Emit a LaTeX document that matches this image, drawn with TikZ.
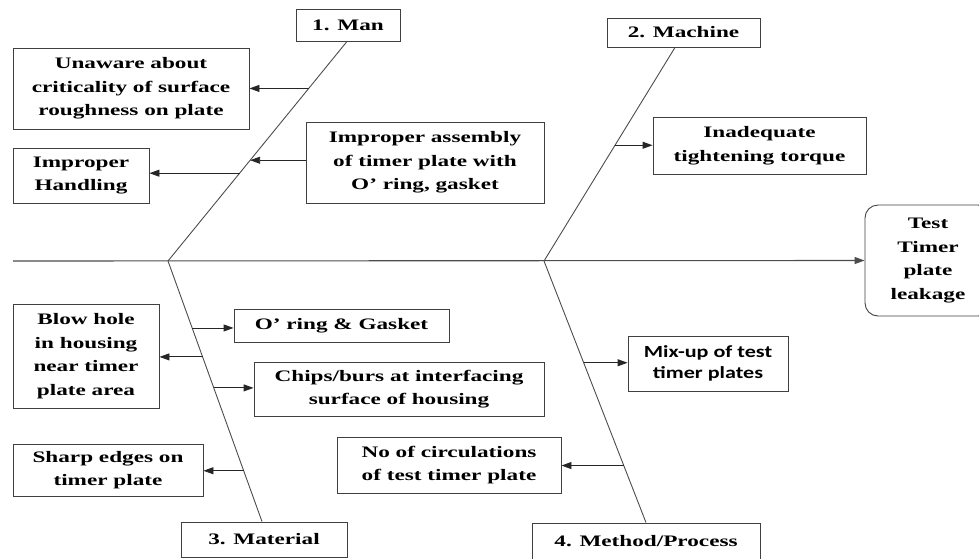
\documentclass[tikz,border=0pt]{standalone}
\usepackage{fontspec}
\setmainfont{Liberation Serif}[FakeStretch=1.45]
\newfontfamily\calibri{Carlito}[FakeStretch=1.3]
\usetikzlibrary{arrows.meta,calc}

\begin{document}
\begin{tikzpicture}[x=1pt, y=-1pt, >={Triangle[length=10pt,width=7pt]},
  box/.style = {draw=black!75, line width=0.9pt, align=center, inner sep=0pt,
    font=\fontsize{16}{23.5}\selectfont\bfseries},
  bone/.style = {draw=black!70, line width=0.9pt},
  twig/.style = {draw=black!85, line width=0.9pt, ->}]
\useasboundingbox (0,0) rectangle (979,558);

% categories
\node[box, minimum width=104, minimum height=32] (man) at (348,25) {1. Man};
\node[box, minimum width=153, minimum height=29] (mach) at (683.5,32.5) {2. Machine};
\node[box, minimum width=166, minimum height=35] (mat) at (264,539.5) {3. Material};
\node[box, minimum width=228, minimum height=37] (meth) at (646,541.5) {4. Method/Process};

% effect
\node[box, rounded corners=13pt, minimum width=126, minimum height=111] (hd) at (928,260.5)
  {Test\\Timer\\plate\\leakage};

% causes
\node[box, minimum width=236, minimum height=81] (unaw) at (131,88.5)
  {Unaware about\\criticality of surface\\roughness on plate};
\node[box, minimum width=136, minimum height=55] (hand) at (81,175.5) {Improper\\Handling};
\node[box, minimum width=238, minimum height=81] (asm) at (425,162.5)
  {Improper assembly\\of timer plate with\\O’ ring, gasket};
\node[box, minimum width=213, minimum height=57] (torq) at (759.5,145.5)
  {Inadequate\\tightening torque};
\node[box, minimum width=215, minimum height=33] (oring) at (341.5,325.5) {O’ ring \& Gasket};
\node[box, minimum width=146, minimum height=104] (blow) at (86,356)
  {Blow hole\\in housing\\near timer\\plate area};
\node[box, minimum width=290, minimum height=54] (chips) at (399,389)
  {Chips/burs at interfacing\\surface of housing};
\node[box, minimum width=190, minimum height=52] (sharp) at (108,470)
  {Sharp edges on\\timer plate};
\node[box, minimum width=160, minimum height=55, font=\fontsize{17}{21.7}\selectfont\calibri\bfseries]
  (mix) at (708,363.5) {Mix-up of test\\timer plates};
\node[box, minimum width=224, minimum height=56] (circ) at (449,465)
  {No of circulations\\of test timer plate};

% spine and bones
\coordinate (tail) at (13,261);
\coordinate (j1) at (168,261);
\coordinate (j2) at (544,261);
\coordinate (b1) at ([xshift=-1pt]man.south);
\coordinate (b2) at ([xshift=-8.5pt]mach.south);
\coordinate (b3) at ([xshift=-2pt]mat.north);
\coordinate (b4) at (meth.north);

\draw[bone, line width=1.1pt, ->] (tail) -- (hd.west);
\draw[bone] (b1) -- (j1);
\draw[bone] (j1) -- (b3);
\draw[bone] (b2) -- (j2);
\draw[bone] (j2) -- (b4);

% twigs
\coordinate (p1) at ($(b1)!0.214!(j1)$);
\coordinate (p2) at ($(b1)!0.6!(j1)$);
\coordinate (p3) at ($(b1)!0.541!(j1)$);
\coordinate (p4) at ($(b2)!0.458!(j2)$);
\coordinate (p5) at ($(j1)!0.257!(b3)$);
\coordinate (p6) at ($(j1)!0.368!(b3)$);
\coordinate (p7) at ($(j1)!0.487!(b3)$);
\coordinate (p8) at ($(j1)!0.805!(b3)$);
\coordinate (p9) at ($(j2)!0.389!(b4)$);
\coordinate (p10) at ($(j2)!0.782!(b4)$);

\draw[twig] (p1) -- (p1 -| unaw.east);
\draw[twig] (p2) -- (p2 -| hand.east);
\draw[twig] (p3 -| asm.west) -- (p3);
\draw[twig] (p4) -- (p4 -| torq.west);
\draw[twig] (p5) -- (p5 -| oring.west);
\draw[twig] (p6) -- (p6 -| blow.east);
\draw[twig] (p7) -- (p7 -| chips.west);
\draw[twig] (p8) -- (p8 -| sharp.east);
\draw[twig] (p9) -- (p9 -| mix.west);
\draw[twig] (p10) -- (p10 -| circ.east);
\end{tikzpicture}
\end{document}
